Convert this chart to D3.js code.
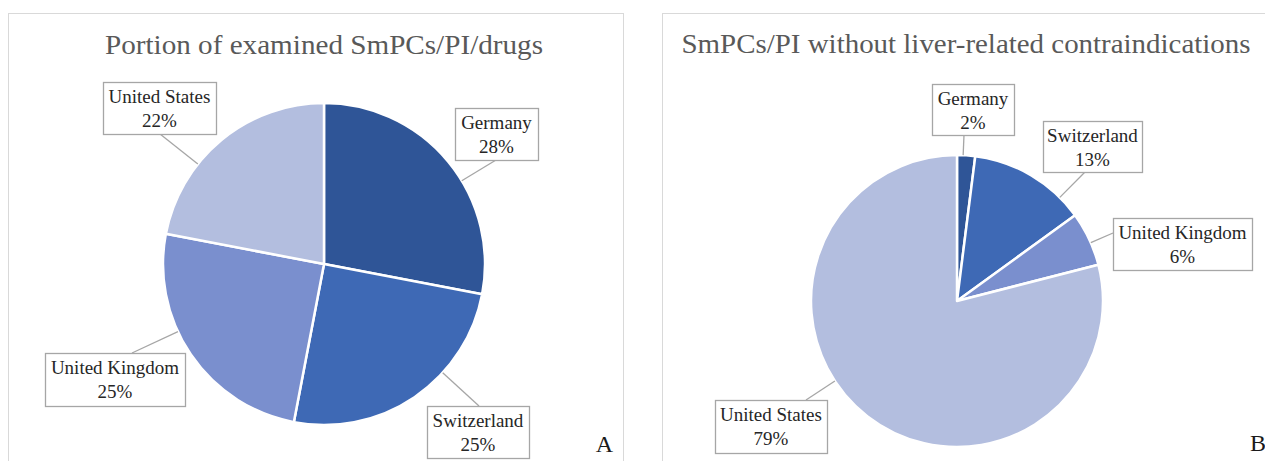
<!DOCTYPE html>
<html>
<head>
<meta charset="utf-8">
<script src="https://cdn.jsdelivr.net/npm/d3@7"></script>
<style>
  body { margin: 0; background: #fff; }
  svg { display: block; }
  text { font-family: "Liberation Serif", "DejaVu Serif", serif; }
</style>
</head>
<body>
<script>
// data
var countries = ["Germany", "Switzerland", "United Kingdom", "United States"]
var examinedPct = [28, 25, 25, 22]
var noLiverPct = [2, 13, 6, 79]
var titles = ["Portion of examined SmPCs/PI/drugs", "SmPCs/PI without liver-related contraindications"]
var panelLetters = ["A", "B"]

var colors = ["#2F5597", "#3E69B5", "#7A8FCE", "#B3BEDF"]

var width = 1265, height = 461

var svg = d3.select("body").append("svg")
    .attr("width", width)
    .attr("height", height)

// layout for each panel (boxes: x, y, w, h, anchor ax, ay)
var panels = [
    {
        values: examinedPct,
        frame: [8, 13, 615, 470],
        cx: 324, cy: 264, r: 161,
        title: { x: 324, y: 54, len: 438 },
        letter: { x: 613, y: 452 },
        boxes: [
            { x: 455, y: 108, w: 83, h: 52, ax: 496, ay: 160 },
            { x: 427, y: 406, w: 102, h: 52, ax: 479, ay: 406 },
            { x: 45, y: 353, w: 140, h: 53, ax: 132, ay: 353 },
            { x: 103, y: 82, w: 113, h: 52, ax: 160, ay: 134 }
        ]
    },
    {
        values: noLiverPct,
        frame: [662, 13, 620, 470],
        cx: 957, cy: 301, r: 146,
        title: { x: 966, y: 53, len: 569 },
        letter: { x: 1266, y: 451 },
        boxes: [
            { x: 932, y: 84, w: 82, h: 51, ax: 964, ay: 135 },
            { x: 1043, y: 121, w: 99, h: 51, ax: 1085, ay: 172 },
            { x: 1113, y: 218, w: 139, h: 52, ax: 1113, ay: 233 },
            { x: 715, y: 400, w: 112, h: 53, ax: 806, ay: 400 }
        ]
    }
]

panels.forEach(function(p, pi){

    var g = svg.append("g")

    g.append("rect")
        .attr("x", p.frame[0] + 0.5)
        .attr("y", p.frame[1] + 0.5)
        .attr("width", p.frame[2])
        .attr("height", p.frame[3])
        .attr("fill", "none")
        .attr("stroke", "#d9d9d9")

    g.append("text")
        .attr("x", p.title.x)
        .attr("y", p.title.y)
        .attr("text-anchor", "middle")
        .attr("font-size", 28)
        .attr("fill", "#595959")
        .attr("textLength", p.title.len)
        .attr("lengthAdjust", "spacingAndGlyphs")
        .text(titles[pi])

    var data = countries.map(function(c, i){ return { name: c, value: p.values[i], box: p.boxes[i] } })

    var pie = d3.pie().sort(null).value(function(d){ return d.value })
    var arcs = pie(data)
    var arc = d3.arc().innerRadius(0).outerRadius(p.r)

    var pieG = g.append("g").attr("transform", "translate(" + p.cx + "," + p.cy + ")")

    pieG.selectAll("path")
        .data(arcs)
        .enter()
        .append("path")
        .attr("d", arc)
        .attr("fill", function(d, i){ return colors[i] })
        .attr("stroke", "#fff")
        .attr("stroke-width", 2.5)
        .attr("stroke-linejoin", "round")

    // leader lines: from box anchor to the nearest point of the slice's rim
    arcs.forEach(function(d){
        var b = d.data.box
        var ang = Math.atan2(b.ax - p.cx, -(b.ay - p.cy))
        if (ang < 0) ang += 2 * Math.PI
        ang = Math.max(d.startAngle, Math.min(d.endAngle, ang))
        var ex = p.cx + p.r * Math.sin(ang)
        var ey = p.cy - p.r * Math.cos(ang)
        g.append("line")
            .attr("x1", b.ax).attr("y1", b.ay)
            .attr("x2", ex).attr("y2", ey)
            .attr("stroke", "#a6a6a6")
            .attr("stroke-width", 1.3)
    })

    var labels = g.selectAll("g.lbl")
        .data(data)
        .enter()
        .append("g")
        .attr("class", "lbl")

    labels.append("rect")
        .attr("x", function(d){ return d.box.x + 0.5 })
        .attr("y", function(d){ return d.box.y + 0.5 })
        .attr("width", function(d){ return d.box.w })
        .attr("height", function(d){ return d.box.h })
        .attr("fill", "#fff")
        .attr("stroke", "#a6a6a6")
        .attr("stroke-width", 1.3)

    labels.append("text")
        .attr("x", function(d){ return d.box.x + d.box.w / 2 })
        .attr("y", function(d){ return d.box.y + 21 })
        .attr("text-anchor", "middle")
        .attr("font-size", 19)
        .attr("fill", "#262626")
        .text(function(d){ return d.name })

    labels.append("text")
        .attr("x", function(d){ return d.box.x + d.box.w / 2 })
        .attr("y", function(d){ return d.box.y + 45 })
        .attr("text-anchor", "middle")
        .attr("font-size", 19)
        .attr("fill", "#262626")
        .text(function(d){ return d.value + "%" })

    g.append("text")
        .attr("x", p.letter.x)
        .attr("y", p.letter.y)
        .attr("text-anchor", "end")
        .attr("font-size", 24)
        .attr("fill", "#1a1a1a")
        .text(panelLetters[pi])
})
</script>
</body>
</html>
